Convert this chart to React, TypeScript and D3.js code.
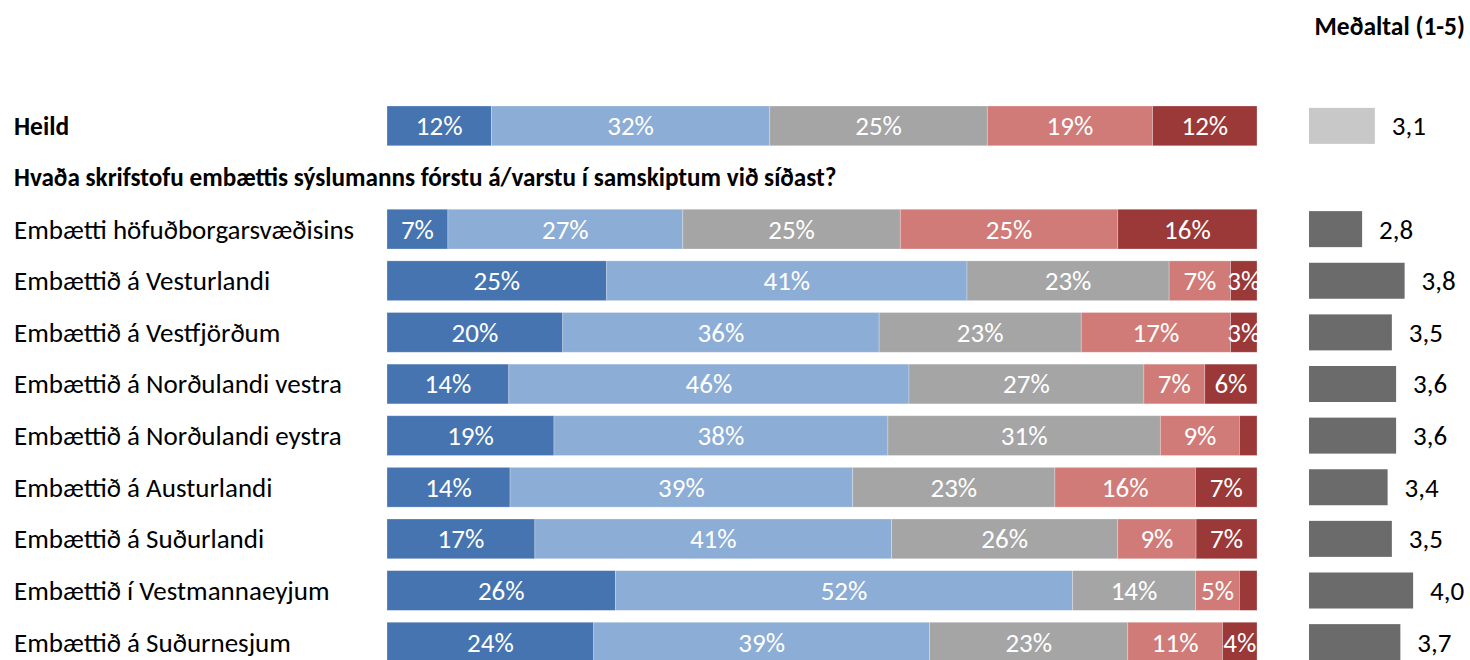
import React, { useEffect, useRef } from "react";
import * as d3 from "d3";

// row labels, first one is the total
const categories = [
  "Heild",
  "Embætti höfuðborgarsvæðisins",
  "Embættið á Vesturlandi",
  "Embættið á Vestfjörðum",
  "Embættið á Norðulandi vestra",
  "Embættið á Norðulandi eystra",
  "Embættið á Austurlandi",
  "Embættið á Suðurlandi",
  "Embættið í Vestmannaeyjum",
  "Embættið á Suðurnesjum",
];

// share of answers per level, in %
const level1 = [12, 7, 25, 20, 14, 19, 14, 17, 26, 24];
const level2 = [32, 27, 41, 36, 46, 38, 39, 41, 52, 39];
const level3 = [25, 25, 23, 23, 27, 31, 23, 26, 14, 23];
const level4 = [19, 25, 7, 17, 7, 9, 16, 9, 5, 11];
const level5 = [12, 16, 3, 3, 6, 2, 7, 7, 2, 4];

const means = [3.1, 2.8, 3.8, 3.5, 3.6, 3.6, 3.4, 3.5, 4.0, 3.7];

const questionTitle = "Hvaða skrifstofu embættis sýslumanns fórstu á/varstu í samskiptum við síðast?";
const meanTitle = "Meðaltal (1-5)";

const colors = ["#4674b0", "#8cadd5", "#a5a5a5", "#d07b77", "#9b3838"];

const W = 1470;
const H = 660;
const font = "Calibri, Carlito, 'Open Sans', sans-serif";

function Chart() {
  const ref = useRef<SVGSVGElement>(null);

  useEffect(() => {
    const svg = d3.select(ref.current);
    svg.selectAll("*").remove();

    const rows = categories.map((name, i) => ({
      name,
      values: [level1[i], level2[i], level3[i], level4[i], level5[i]],
      mean: means[i],
    }));

    const slots = [categories[0], "__question", ...categories.slice(1)];
    const y = d3.scaleBand().domain(slots).range([106, 662]).paddingInner(0.23);

    const barLeft = 387;
    const barRight = 1257;

    const g = svg.append("g").attr("font-family", font);

    rows.forEach((row, ri) => {
      const total = d3.sum(row.values);
      const x = d3.scaleLinear().domain([0, total]).range([barLeft, barRight]);
      const stack = d3.cumsum(row.values);
      const y0 = y(row.name)!;
      const bh = y.bandwidth();

      const segs = row.values.map((v, k) => ({ v, k, start: stack[k] - v, end: stack[k] }));

      const rowG = g.append("g");
      rowG.selectAll("rect")
        .data(segs)
        .enter()
        .append("rect")
        .attr("x", (d) => x(d.start))
        .attr("y", y0)
        .attr("width", (d) => x(d.end) - x(d.start))
        .attr("height", bh)
        .attr("fill", (d) => colors[d.k])
        .attr("stroke", "#ffffff")
        .attr("stroke-opacity", 0.35)
        .attr("stroke-width", 0.75);

      // small slices get no label
      rowG.selectAll("text")
        .data(segs.filter((d) => d.v >= 3))
        .enter()
        .append("text")
        .attr("x", (d) => (x(d.start) + x(d.end)) / 2)
        .attr("y", y0 + bh / 2)
        .attr("dy", "0.35em")
        .attr("text-anchor", "middle")
        .attr("fill", "#ffffff")
        .attr("font-size", 27)
        .text((d) => d.v + "%");

      // category label
      g.append("text")
        .attr("x", 14)
        .attr("y", y0 + bh / 2)
        .attr("dy", "0.35em")
        .attr("font-size", ri === 0 ? 25.5 : 27)
        .attr("font-weight", ri === 0 ? "bold" : "normal")
        .attr("fill", "#000")
        .text(row.name);
    });

    // mean bars
    const mx = d3.scaleLinear().domain([1.55, 5]).range([0, 146.6]);
    const meanLeft = 1309;
    const mh = 36;
    rows.forEach((row, ri) => {
      const cy = y(row.name)! + y.bandwidth() / 2;
      g.append("rect")
        .attr("x", meanLeft)
        .attr("y", cy - mh / 2)
        .attr("width", mx(row.mean))
        .attr("height", mh)
        .attr("fill", ri === 0 ? "#c8c8c8" : "#6b6b6b");
      g.append("text")
        .attr("x", meanLeft + mx(row.mean) + 17)
        .attr("y", cy)
        .attr("dy", "0.35em")
        .attr("font-size", 27)
        .attr("fill", "#000")
        .text(d3.format(".1f")(row.mean).replace(".", ","));
    });

    const qy = y("__question")! + y.bandwidth() / 2;
    g.append("text")
      .attr("x", 14)
      .attr("y", qy)
      .attr("dy", "0.35em")
      .attr("font-size", 25.2)
      .attr("font-weight", "bold")
      .text(questionTitle);

    g.append("text")
      .attr("x", 1465)
      .attr("y", 26)
      .attr("dy", "0.35em")
      .attr("text-anchor", "end")
      .attr("font-size", 25.5)
      .attr("font-weight", "bold")
      .text(meanTitle);
  }, []);

  return <svg ref={ref} width={W} height={H} style={{ display: "block" }} />;
}

export default function App() {
  return (
    <>
      <style>{"body{margin:0;background:#fff}"}</style>
      <Chart />
    </>
  );
}
